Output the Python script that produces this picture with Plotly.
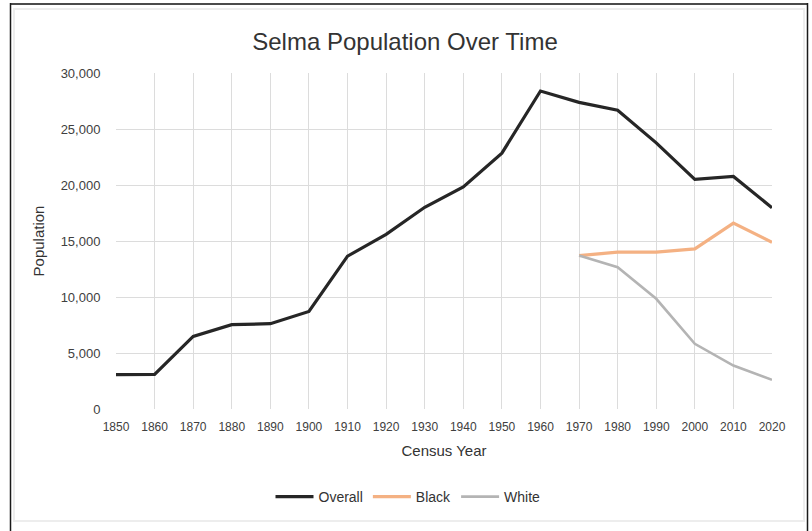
import plotly.graph_objects as go

# Census years and population counts for Selma, Alabama
years = [1850, 1860, 1870, 1880, 1890, 1900, 1910, 1920, 1930,
         1940, 1950, 1960, 1970, 1980, 1990, 2000, 2010, 2020]
overall = [3070, 3080, 6480, 7530, 7620, 8710, 13650, 15590, 18010,
           19830, 22840, 28390, 27380, 26680, 23760, 20510, 20760, 17970]

race_years = [1970, 1980, 1990, 2000, 2010, 2020]
black = [13700, 14000, 14000, 14300, 16590, 14890]
white = [13700, 12660, 9840, 5820, 3880, 2610]

y_ticks = [0, 5000, 10000, 15000, 20000, 25000, 30000]

W, H = 812, 531
L, R, T, B = 116, 40, 73, 122   # plot area margins in px
PW, PH = W - L - R, H - T - B


def px(x):
    return (x - L) / PW


def py(y):
    return (H - B - y) / PH


fig = go.Figure()
fig.add_trace(go.Scatter(x=years, y=overall, name="Overall", mode="lines",
                         line=dict(color="#262626", width=3.2)))
fig.add_trace(go.Scatter(x=race_years, y=black, name="Black", mode="lines",
                         line=dict(color="#F4B183", width=3.2)))
fig.add_trace(go.Scatter(x=race_years, y=white, name="White", mode="lines",
                         line=dict(color="#B4B4B4", width=2.6)))

font_family = "Liberation Sans, Arial, sans-serif"

fig.update_layout(
    width=W, height=H,
    margin=dict(l=L, r=R, t=T, b=B),
    paper_bgcolor="white", plot_bgcolor="white",
    font=dict(family=font_family, color="#404040"),
    title=dict(text="Selma Population Over Time", xref="container", x=405 / W,
               xanchor="center", yref="container", y=1 - 42 / H, yanchor="middle",
               font=dict(size=24, color="#333333")),
    showlegend=True,
    legend=dict(orientation="h", xref="container", x=408 / W, xanchor="center",
                yref="container", y=1 - 497 / H, yanchor="middle",
                font=dict(size=14, color="#333333"), itemwidth=38,
                bgcolor="rgba(0,0,0,0)"),
    xaxis=dict(range=[1850, 2020], tickmode="array", tickvals=years,
               ticktext=[str(y) for y in years], showgrid=True,
               gridcolor="#DCDCDC", gridwidth=1, zeroline=False,
               showline=False, ticks="outside", ticklen=7, tickcolor="white",
               tickfont=dict(size=12, color="#404040"),
               title=dict(text="Census Year", standoff=12,
                          font=dict(size=15, color="#333333"))),
    yaxis=dict(range=[0, 30000], tickvals=y_ticks,
               ticktext=[f"{v:,}" for v in y_ticks], showgrid=True,
               gridcolor="#DCDCDC", gridwidth=1, zeroline=False,
               showline=False, ticks="outside", ticklen=12, tickcolor="white",
               tickfont=dict(size=13, color="#404040"),
               title=dict(text="Population", standoff=12,
                          font=dict(size=15, color="#333333"))),
)

# Outer frame around the chart
shapes = [
    dict(type="line", xref="paper", yref="paper", x0=px(10), x1=px(808),
         y0=py(4), y1=py(4), line=dict(color="#4a4a4a", width=2)),
    dict(type="line", xref="paper", yref="paper", x0=px(10.5), x1=px(10.5),
         y0=py(3), y1=py(531), line=dict(color="#1a1a1a", width=1.5)),
    dict(type="line", xref="paper", yref="paper", x0=px(807.5), x1=px(807.5),
         y0=py(3), y1=py(531), line=dict(color="#1a1a1a", width=1.5)),
    dict(type="rect", xref="paper", yref="paper", x0=px(14), x1=px(804),
         y0=py(9), y1=py(521), line=dict(color="#EDEDED", width=2)),
]
fig.update_layout(shapes=shapes)

fig.write_html("out.html")
